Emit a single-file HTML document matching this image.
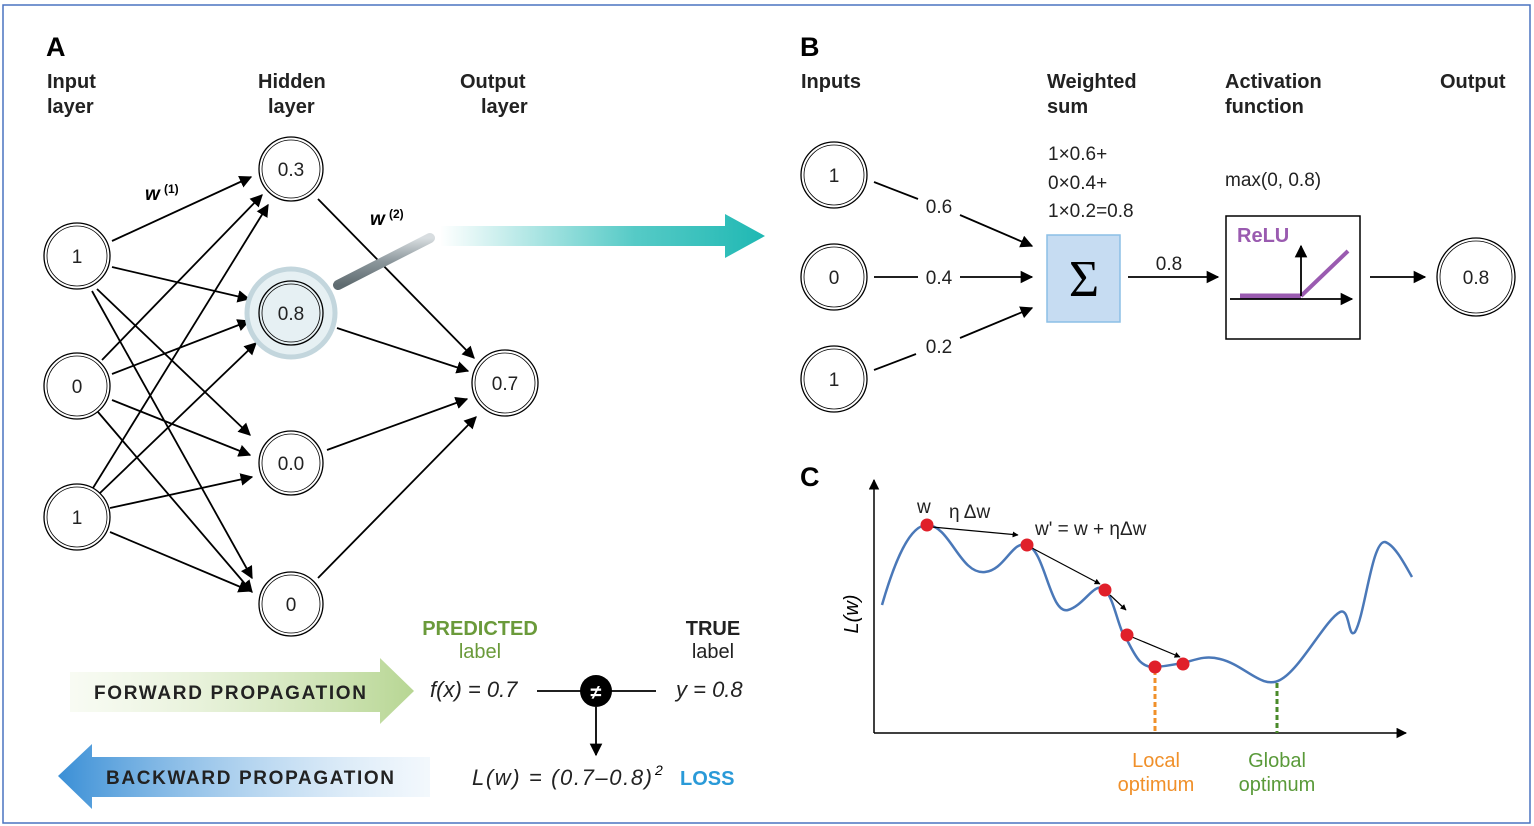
<!DOCTYPE html>
<html><head><meta charset="utf-8"><style>
body{margin:0;background:#fff}
svg{display:block;font-family:"Liberation Sans",sans-serif}
</style></head><body>
<svg width="1534" height="826" viewBox="0 0 1534 826" xmlns="http://www.w3.org/2000/svg">
<defs>
<marker id="ah" viewBox="0 0 10 10" refX="9" refY="5" markerWidth="7" markerHeight="7" orient="auto-start-reverse"><path d="M0,0 L10,5 L0,10 z" fill="#000"/></marker>
<marker id="ahs" viewBox="0 0 10 10" refX="9" refY="5" markerWidth="5" markerHeight="5" orient="auto"><path d="M0,0 L10,5 L0,10 z" fill="#000"/></marker>
<linearGradient id="teal" x1="0" x2="1"><stop offset="0" stop-color="#2bbdb8" stop-opacity="0"/><stop offset="0.6" stop-color="#2bbdb8" stop-opacity="0.8"/><stop offset="1" stop-color="#1fb8b3"/></linearGradient>
<linearGradient id="fwd" x1="0" x2="1"><stop offset="0" stop-color="#e8f2d8" stop-opacity="0.3"/><stop offset="1" stop-color="#b7d693"/></linearGradient>
<linearGradient id="bwd" x1="0" x2="1"><stop offset="0" stop-color="#3a8fd6"/><stop offset="1" stop-color="#d6e8f7" stop-opacity="0.3"/></linearGradient>
<linearGradient id="hdl" x1="0" y1="0" x2="0" y2="1"><stop offset="0" stop-color="#d8dde0"/><stop offset="0.5" stop-color="#8c979c"/><stop offset="1" stop-color="#5f6b70"/></linearGradient>
</defs>
<rect x="3" y="5" width="1527" height="818" fill="#fff" stroke="#4a73c0" stroke-width="1.5"/>

<text x="46" y="56" font-size="27" font-weight="bold">A</text>
<g font-size="20" font-weight="bold" fill="#222">
<text x="47" y="88">Input</text><text x="47" y="113">layer</text>
<text x="258" y="88">Hidden</text><text x="268" y="113">layer</text>
<text x="460" y="88">Output</text><text x="481" y="113">layer</text>
</g>
<path d="M440,226 L725,226 L725,214 L765,236 L725,258 L725,246 L440,246 z" fill="url(#teal)"/>
<g stroke="#000" stroke-width="1.8" fill="none" marker-end="url(#ah)">
<line x1="112" y1="241" x2="251" y2="177"/>
<line x1="112" y1="267" x2="249" y2="299"/>
<line x1="97" y1="289" x2="250" y2="435"/>
<line x1="92" y1="291" x2="252" y2="578"/>
<line x1="102" y1="360" x2="262" y2="195"/>
<line x1="112" y1="374" x2="249" y2="321"/>
<line x1="112" y1="400" x2="250" y2="455"/>
<line x1="98" y1="412" x2="252" y2="592"/>
<line x1="93" y1="488" x2="268" y2="205"/>
<line x1="100" y1="493" x2="256" y2="343"/>
<line x1="110" y1="508" x2="252" y2="477"/>
<line x1="110" y1="532" x2="250" y2="591"/>
<line x1="318" y1="199" x2="474" y2="358"/>
<line x1="337" y1="328" x2="468" y2="371"/>
<line x1="327" y1="450" x2="467" y2="399"/>
<line x1="318" y1="578" x2="476" y2="417"/>
</g>
<text x="145" y="200" font-size="19" font-weight="bold" font-style="italic">w</text><text x="164" y="193" font-size="12" font-weight="bold">(1)</text>
<text x="370" y="225" font-size="19" font-weight="bold" font-style="italic">w</text><text x="389" y="218" font-size="12" font-weight="bold">(2)</text>
<line x1="338" y1="285" x2="430" y2="238" stroke="url(#hdl)" stroke-width="10" stroke-linecap="round"/>
<circle cx="291" cy="313" r="44" fill="#e6f0f3" stroke="#c3d6dd" stroke-width="5"/>
<g fill="#fff" stroke="#000" stroke-width="1.3">
<circle cx="77" cy="256" r="33"/><circle cx="77" cy="256" r="30" stroke-width="0.8"/>
<circle cx="77" cy="386" r="33"/><circle cx="77" cy="386" r="30" stroke-width="0.8"/>
<circle cx="77" cy="517" r="33"/><circle cx="77" cy="517" r="30" stroke-width="0.8"/>
<circle cx="291" cy="169" r="32"/><circle cx="291" cy="169" r="29" stroke-width="0.8"/>
<circle cx="291" cy="313" r="32" fill="#e6f0f3"/><circle cx="291" cy="313" r="29" stroke-width="0.8" fill="none"/>
<circle cx="291" cy="463" r="32"/><circle cx="291" cy="463" r="29" stroke-width="0.8"/>
<circle cx="291" cy="604" r="32"/><circle cx="291" cy="604" r="29" stroke-width="0.8"/>
<circle cx="505" cy="383" r="33"/><circle cx="505" cy="383" r="30" stroke-width="0.8"/>
</g>
<g font-size="19" text-anchor="middle" fill="#222">
<text x="77" y="263">1</text><text x="77" y="393">0</text><text x="77" y="524">1</text>
<text x="291" y="176">0.3</text><text x="291" y="320">0.8</text><text x="291" y="470">0.0</text><text x="291" y="611">0</text>
<text x="505" y="390">0.7</text>
</g>
<path d="M70,672 L380,672 L380,658 L414,691 L380,724 L380,712 L70,712 z" fill="url(#fwd)"/>
<text x="94" y="699" font-size="19" font-weight="bold" fill="#222" textLength="272" lengthAdjust="spacing">FORWARD PROPAGATION</text>
<path d="M430,757 L92,757 L92,744 L58,776 L92,809 L92,797 L430,797 z" fill="url(#bwd)"/>
<text x="106" y="784" font-size="19" font-weight="bold" fill="#222" textLength="288" lengthAdjust="spacing">BACKWARD PROPAGATION</text>
<g font-size="20" font-weight="bold" text-anchor="middle">
<text x="480" y="635" fill="#6a9a3a">PREDICTED</text><text x="480" y="658" fill="#6a9a3a" font-weight="normal">label</text>
<text x="713" y="635" fill="#222">TRUE</text><text x="713" y="658" fill="#222" font-weight="normal">label</text>
</g>
<text x="430" y="697" font-size="22" font-style="italic" fill="#222">f(x) = 0.7</text>
<text x="676" y="697" font-size="22" font-style="italic" fill="#222">y = 0.8</text>
<line x1="537" y1="691" x2="656" y2="691" stroke="#000" stroke-width="1.8"/>
<circle cx="596" cy="691" r="16" fill="#000"/>
<text x="596" y="699" font-size="20" fill="#fff" text-anchor="middle" font-weight="bold">≠</text>
<line x1="596" y1="707" x2="596" y2="755" stroke="#000" stroke-width="1.8" marker-end="url(#ah)"/>
<text x="472" y="785" font-size="22" font-style="italic" fill="#222" textLength="180" lengthAdjust="spacing">L(w) = (0.7–0.8)</text><text x="655" y="775" font-size="14" font-style="italic">2</text>
<text x="680" y="785" font-size="20" font-weight="bold" fill="#2a9ad8">LOSS</text>

<text x="800" y="56" font-size="27" font-weight="bold">B</text>
<g font-size="20" font-weight="bold" fill="#222">
<text x="801" y="88">Inputs</text>
<text x="1047" y="88">Weighted</text><text x="1047" y="113">sum</text>
<text x="1225" y="88">Activation</text><text x="1225" y="113">function</text>
<text x="1440" y="88">Output</text>
</g>
<g font-size="19" fill="#222">
<text x="1048" y="160">1×0.6+</text><text x="1048" y="189">0×0.4+</text><text x="1048" y="217">1×0.2=0.8</text>
<text x="1225" y="186">max(0, 0.8)</text>
</g>
<g fill="#fff" stroke="#000" stroke-width="1.3">
<circle cx="834" cy="175" r="33"/><circle cx="834" cy="175" r="30" stroke-width="0.8"/>
<circle cx="834" cy="277" r="33"/><circle cx="834" cy="277" r="30" stroke-width="0.8"/>
<circle cx="834" cy="379" r="33"/><circle cx="834" cy="379" r="30" stroke-width="0.8"/>
<circle cx="1476" cy="277" r="39"/><circle cx="1476" cy="277" r="36" stroke-width="0.8"/>
</g>
<g font-size="19" text-anchor="middle" fill="#222">
<text x="834" y="182">1</text><text x="834" y="284">0</text><text x="834" y="386">1</text><text x="1476" y="284">0.8</text>
<text x="939" y="213">0.6</text><text x="939" y="284">0.4</text><text x="939" y="353">0.2</text><text x="1169" y="270">0.8</text>
</g>
<g stroke="#000" stroke-width="1.8" fill="none">
<line x1="874" y1="182" x2="918" y2="199"/>
<line x1="960" y1="215" x2="1032" y2="246" marker-end="url(#ah)"/>
<line x1="874" y1="277" x2="918" y2="277"/>
<line x1="960" y1="277" x2="1032" y2="277" marker-end="url(#ah)"/>
<line x1="874" y1="370" x2="916" y2="354"/>
<line x1="960" y1="338" x2="1032" y2="308" marker-end="url(#ah)"/>
<line x1="1128" y1="277" x2="1218" y2="277" marker-end="url(#ah)"/>
<line x1="1370" y1="277" x2="1425" y2="277" marker-end="url(#ah)"/>
</g>
<rect x="1047" y="235" width="73" height="87" fill="#c6dcf2" stroke="#8cbfe6" stroke-width="1.5"/>
<text x="1084" y="296" font-size="52" text-anchor="middle" font-family="Liberation Serif,serif">Σ</text>
<rect x="1226" y="216" width="134" height="123" fill="#fff" stroke="#000" stroke-width="1.5"/>
<text x="1237" y="242" font-size="20" font-weight="bold" fill="#9a5bb0">ReLU</text>
<line x1="1240" y1="296" x2="1301" y2="296" stroke="#9a5bb0" stroke-width="5"/>
<line x1="1301" y1="296" x2="1348" y2="251" stroke="#9a5bb0" stroke-width="4"/>
<line x1="1230" y1="299" x2="1352" y2="299" stroke="#000" stroke-width="1.8" marker-end="url(#ah)"/>
<line x1="1301" y1="296" x2="1301" y2="246" stroke="#000" stroke-width="1.8" marker-end="url(#ah)"/>

<text x="800" y="486" font-size="27" font-weight="bold">C</text>
<line x1="874" y1="733" x2="874" y2="480" stroke="#000" stroke-width="1.5" marker-end="url(#ah)"/>
<line x1="874" y1="733" x2="1406" y2="733" stroke="#000" stroke-width="1.5" marker-end="url(#ah)"/>
<text transform="translate(858,614) rotate(-90)" font-size="20" font-style="italic" text-anchor="middle">L(w)</text>
<path d="M882,605 C895,560 910,525 927,525 C950,525 960,575 985,572 C1005,570 1012,540 1027,545 C1045,550 1050,615 1068,610 C1085,605 1095,580 1105,590 C1115,600 1118,630 1127,640 C1135,655 1140,668 1155,667 C1170,666 1175,664 1183,663 C1195,660 1205,655 1220,659 C1245,665 1262,690 1280,680 C1300,670 1325,620 1340,612 C1350,607 1348,640 1355,632 C1365,615 1372,540 1385,542 C1395,545 1405,565 1412,577" fill="none" stroke="#4a78b8" stroke-width="2.5"/>
<line x1="1155" y1="670" x2="1155" y2="733" stroke="#f0902a" stroke-width="3" stroke-dasharray="5,3"/>
<line x1="1277" y1="683" x2="1277" y2="733" stroke="#4a8a2a" stroke-width="3" stroke-dasharray="5,3"/>
<g stroke="#000" stroke-width="1.2" marker-end="url(#ahs)">
<line x1="932" y1="527" x2="1018" y2="535"/>
<line x1="1032" y1="548" x2="1100" y2="584"/>
<line x1="1110" y1="595" x2="1126" y2="610"/>
<line x1="1132" y1="637" x2="1180" y2="657"/>
</g>
<g fill="#e0202a">
<circle cx="927" cy="525" r="6.5"/><circle cx="1027" cy="545" r="6.5"/><circle cx="1105" cy="590" r="6.5"/>
<circle cx="1127" cy="635" r="6.5"/><circle cx="1155" cy="667" r="6.5"/><circle cx="1183" cy="664" r="6.5"/>
</g>
<g font-size="19" fill="#222">
<text x="917" y="513">w</text><text x="949" y="518">η Δw</text>
<text x="1035" y="535">w' = w + ηΔw</text>
</g>
<g font-size="20" text-anchor="middle">
<text x="1156" y="767" fill="#f0902a">Local</text><text x="1156" y="791" fill="#f0902a">optimum</text>
<text x="1277" y="767" fill="#5a9a3a">Global</text><text x="1277" y="791" fill="#5a9a3a">optimum</text>
</g>
</svg>
</body></html>
